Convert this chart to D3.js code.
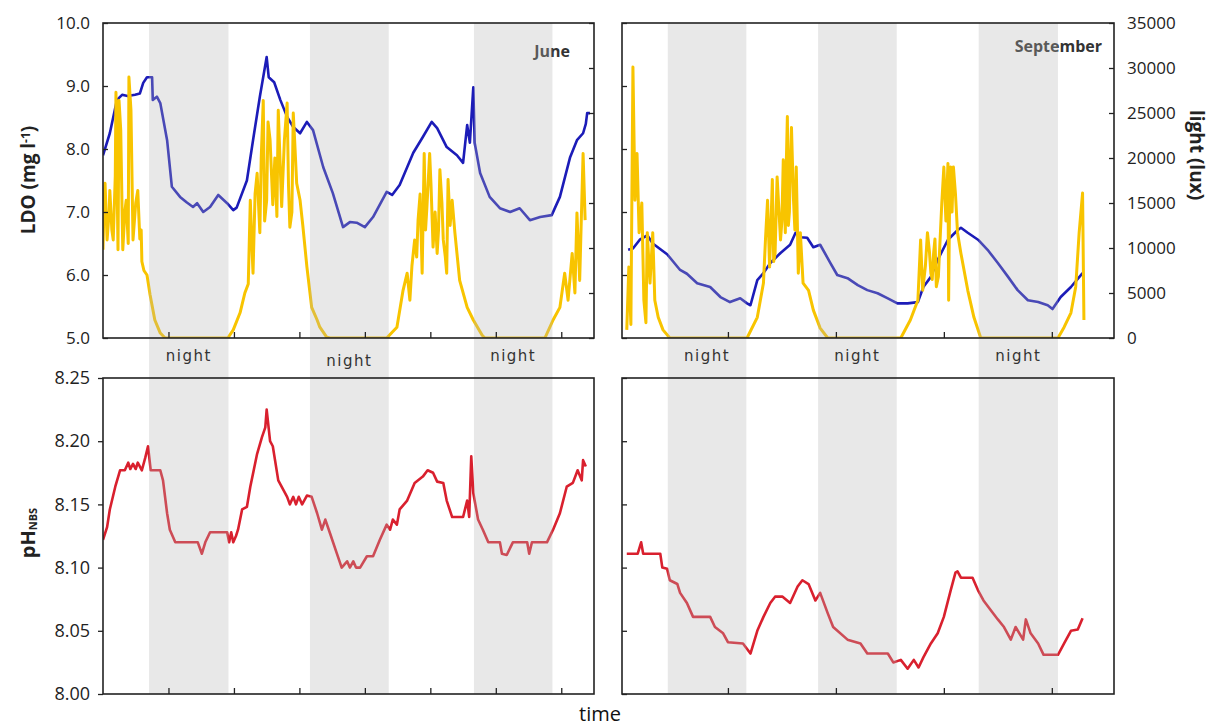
<!DOCTYPE html>
<html>
<head>
<meta charset="utf-8">
<script src="https://cdn.jsdelivr.net/npm/d3@7"></script>
<style>
  body { margin: 0; background: #fff; }
  svg { display: block; }
  text { font-family: "Open Sans", sans-serif; fill: #222; }
</style>
</head>
<body>
<svg id="drawing_region"></svg>
<script>
// time in hours since start of each record
const juneLdo = [[0,7.9],[1,8.25],[2.05,8.78],[2.8,8.86],[3.6,8.84],[4.7,8.86],[5.4,8.88],[5.9,9.05],[6.45,9.14],[7.2,9.14],[7.3,8.78],[7.9,8.83],[8.4,8.73],[9.4,8.14],[10.1,7.4],[11.3,7.24],[12.3,7.15],[13.2,7.08],[13.8,7.14],[14.7,7.0],[15.7,7.08],[16.9,7.27],[18.2,7.14],[19.1,7.03],[19.6,7.07],[21.1,7.5],[22,8.14],[23,8.83],[24,9.46],[24.3,9.14],[25.1,9.06],[26,8.78],[27,8.51],[27.9,8.35],[28.9,8.25],[29.9,8.43],[30.8,8.3],[32.3,7.71],[33.7,7.3],[35.2,6.76],[36.2,6.84],[37.2,6.83],[38.4,6.76],[39.6,6.92],[41.6,7.32],[42.4,7.27],[43.5,7.43],[45.5,7.94],[46.9,8.19],[48.2,8.43],[49,8.33],[50.4,8.03],[51.9,7.9],[52.8,7.78],[53.4,8.38],[53.8,8.1],[54.3,8.98],[54.5,8.1],[55.3,7.62],[56.7,7.24],[58.2,7.06],[59.7,7.0],[61.1,7.06],[62.6,6.87],[64.1,6.92],[65.8,6.95],[67,7.24],[68.5,7.87],[69.5,8.14],[70.4,8.25],[70.8,8.4],[71,8.57],[71.4,8.57]];

const juneLux = [[0,9800],[0.15,15000],[0.3,17200],[0.6,10900],[0.9,14000],[1,16400],[1.3,12000],[1.5,10900],[1.8,18000],[1.9,27300],[2.2,9800],[2.35,26400],[2.6,23100],[2.9,9800],[3.2,14000],[3.4,15300],[3.7,10500],[3.8,29000],[4.1,25300],[4.4,10900],[4.8,15000],[5.1,16400],[5.4,11000],[5.6,12000],[5.7,8500],[6,7500],[6.45,7000],[6.9,4800],[7.6,2000],[8.4,550],[9.1,0],[18.3,0],[19.1,900],[20.1,2800],[20.8,5000],[21.3,6000],[21.6,15300],[21.9,9000],[22,7200],[22.3,16000],[22.6,18300],[23,11700],[23.2,20000],[23.5,26400],[23.7,13000],[24,15300],[24.2,24000],[24.5,22000],[24.9,14800],[25.2,20000],[25.5,13500],[25.7,25300],[26.2,14600],[26.6,22000],[27,26100],[27.2,17000],[27.4,12300],[27.7,14000],[27.9,25000],[28.1,22000],[28.4,17200],[28.9,15300],[29.3,12500],[29.9,7900],[30.6,3400],[31.4,2000],[31.8,1200],[32.8,100],[33.3,0],[41.6,0],[43.1,1200],[44,5300],[44.6,7200],[45,4200],[45.3,8000],[45.7,10900],[46,9000],[46.2,13100],[46.5,16000],[46.8,7200],[47.1,20500],[47.3,12000],[47.5,14600],[47.9,20500],[48.1,17000],[48.4,10100],[48.7,14000],[49,9400],[49.2,12000],[49.4,18700],[49.7,15000],[49.9,10900],[50.2,9000],[50.4,7200],[50.6,17600],[50.9,12500],[51.2,15300],[51.6,11700],[52.3,6400],[53.4,3400],[54.3,2000],[55.6,300],[56,0],[64.8,0],[66,2000],[67,3400],[67.7,7200],[68.2,4200],[68.8,9400],[69.2,5000],[69.5,13900],[69.9,6400],[70.4,20500],[70.7,13100]];

const junePh = [[0,8.122],[0.6,8.132],[1,8.146],[1.8,8.164],[2.5,8.177],[3.2,8.177],[3.7,8.183],[4,8.178],[4.4,8.182],[4.8,8.178],[5.1,8.183],[5.7,8.177],[6.2,8.187],[6.6,8.196],[7,8.177],[8.4,8.177],[8.8,8.169],[9.4,8.143],[9.8,8.13],[10.6,8.12],[13.9,8.12],[14.5,8.111],[15,8.12],[15.7,8.128],[18.2,8.128],[18.5,8.12],[18.8,8.128],[19.1,8.12],[19.5,8.125],[19.8,8.13],[20.4,8.146],[21.1,8.148],[21.6,8.164],[22.6,8.19],[23.3,8.203],[23.8,8.211],[24,8.225],[24.5,8.2],[24.9,8.196],[25.7,8.169],[27,8.156],[27.4,8.15],[27.9,8.156],[28.3,8.15],[28.7,8.156],[29.2,8.15],[29.9,8.157],[30.6,8.156],[31.4,8.143],[32.1,8.13],[32.6,8.138],[33.3,8.127],[34.3,8.111],[35,8.1],[35.8,8.105],[36.2,8.1],[36.7,8.105],[37.1,8.1],[37.7,8.1],[38.7,8.109],[39.6,8.109],[40.6,8.122],[41.6,8.134],[42.1,8.13],[42.5,8.138],[43.1,8.134],[43.5,8.146],[44.6,8.153],[45.7,8.167],[46.9,8.172],[47.6,8.177],[48.4,8.175],[49,8.168],[49.9,8.167],[50.4,8.153],[51.2,8.14],[52.8,8.14],[53.4,8.153],[53.7,8.14],[54,8.188],[54.3,8.159],[55,8.138],[55.7,8.13],[56.5,8.12],[58.2,8.12],[58.5,8.111],[59.2,8.11],[60.1,8.12],[62.2,8.12],[62.5,8.111],[62.9,8.12],[65.1,8.12],[66,8.13],[67,8.143],[68,8.164],[68.9,8.167],[69.6,8.177],[70.2,8.169],[70.4,8.185],[70.8,8.18]];

const septLdo = [[0.9,6.4],[1.6,6.42],[2.6,6.56],[3.7,6.63],[4.5,6.5],[6.6,6.33],[8.5,6.08],[9.5,6.02],[11,5.87],[12.9,5.81],[14.4,5.65],[15.8,5.57],[17.3,5.63],[18.3,5.55],[18.8,5.52],[19.8,5.92],[20.7,6.03],[21.7,6.19],[23.2,6.35],[24.6,6.48],[25.4,6.67],[26.1,6.6],[27.1,6.59],[28,6.44],[29,6.48],[30.5,6.19],[31.5,6.0],[33,5.95],[34.5,5.84],[35.9,5.76],[37.4,5.71],[38.9,5.63],[40.3,5.55],[41.8,5.55],[43.3,5.57],[44.1,5.81],[45.2,5.97],[46.2,6.24],[47.7,6.56],[49.1,6.71],[49.6,6.75],[50.6,6.67],[52.1,6.56],[53.5,6.4],[55,6.19],[56.5,5.97],[57.9,5.76],[59.4,5.6],[60.9,5.57],[62.3,5.52],[63,5.46],[64.2,5.65],[65.7,5.81],[67.4,6.03]];

const septLux = [[0.7,900],[1,7900],[1.3,1500],[1.6,30100],[1.9,15300],[2.2,20500],[2.5,11700],[2.9,15000],[3.2,4200],[3.5,1700],[3.7,11700],[4.1,6100],[4.5,11700],[4.8,4200],[5.3,2300],[6,900],[7,0],[18.3,0],[19.8,2300],[20.7,6100],[21,11000],[21.3,15300],[21.6,7900],[21.8,12500],[22,17600],[22.2,8500],[22.4,9400],[22.7,17900],[23.2,10900],[23.4,13000],[23.6,19800],[23.9,11700],[24,18000],[24.2,24600],[24.35,12500],[24.5,14000],[24.65,20000],[24.8,23400],[25.1,15300],[25.3,12000],[25.5,19000],[25.8,7200],[26.1,11700],[26.5,6100],[27.3,5300],[28,3100],[29,1100],[30.1,0],[40.8,0],[42.2,2000],[43.3,4200],[43.7,10900],[44,5300],[44.4,8000],[44.7,11700],[45,9500],[45.2,7200],[45.4,6500],[45.6,9400],[45.8,11000],[46,5700],[46.3,6800],[46.5,10100],[46.8,15000],[47.1,19000],[47.4,13000],[47.7,19400],[47.8,4200],[47.95,16000],[48.1,19000],[48.3,14000],[48.5,19000],[48.8,16000],[49.1,11700],[49.6,9400],[50.6,5300],[51.5,2300],[52.5,0],[63.8,0],[64.7,1200],[65.7,2800],[66.4,5700],[66.9,11700],[67.4,16100],[67.6,2000]];

const septPh = [[0.7,8.111],[2.3,8.111],[2.8,8.12],[3.1,8.111],[5.6,8.111],[5.9,8.1],[6.6,8.099],[7,8.09],[8.1,8.087],[8.5,8.08],[9.5,8.072],[10.4,8.061],[12.9,8.061],[13.6,8.053],[14.8,8.048],[15.5,8.041],[17.7,8.04],[18.8,8.032],[19.8,8.05],[20.7,8.061],[21.7,8.072],[22.4,8.077],[23.5,8.077],[24.6,8.072],[25.7,8.085],[26.4,8.09],[27.3,8.087],[28.3,8.074],[29,8.08],[30.1,8.064],[30.9,8.053],[33,8.043],[34.9,8.04],[35.9,8.032],[38.9,8.032],[39.7,8.025],[40.8,8.027],[41.8,8.02],[42.7,8.027],[43.4,8.021],[44.1,8.029],[45.2,8.04],[46.2,8.048],[47.1,8.061],[48.1,8.082],[48.8,8.096],[49.1,8.097],[49.6,8.092],[51.3,8.092],[52.1,8.082],[52.9,8.074],[54,8.066],[55,8.059],[55.9,8.053],[56.9,8.043],[57.6,8.053],[58.7,8.043],[59.1,8.059],[59.8,8.048],[60.9,8.04],[61.7,8.031],[63.8,8.031],[64.7,8.04],[65.7,8.05],[66.7,8.051],[67.4,8.06]];

const juneNights = [[6.75,18.4],[30.35,41.9],[54.4,65.9]];
const septNights = [[6.7,18.2],[28.7,40.2],[52.2,63.8]];
const juneTimeTicks = [9.6,19.2,28.8,38.4,48,57.6,67.2];
const septTimeTicks = [15.5,31.3,47.1,62.9];
const ldoTicks = [5,6,7,8,9,10];
const luxTicks = [0,5000,10000,15000,20000,25000,30000,35000];
const phTicks = [8.00,8.05,8.10,8.15,8.20,8.25];

const W = 1212, H = 726;
const svg = d3.select('#drawing_region').attr('width', W).attr('height', H);

const top_ = {y: 23, h: 315};
const bot_ = {y: 378, h: 316};

const yLdo = d3.scaleLinear().domain([5,10]).range([top_.y + top_.h, top_.y]);
const yLux = d3.scaleLinear().domain([0,35000]).range([top_.y + top_.h, top_.y]);
const yPh = d3.scaleLinear().domain([8,8.25]).range([bot_.y + bot_.h, bot_.y]);

const cols = [
    {name: 'june', x: 103, w: 491, ldo: juneLdo, lux: juneLux, ph: junePh, nights: juneNights, ticks: juneTimeTicks, month: 'June', monthY: 57, labelDrop: [0,5,0]},
    {name: 'sept', x: 622, w: 492, ldo: septLdo, lux: septLux, ph: septPh, nights: septNights, ticks: septTimeTicks, month: 'September', monthY: 52, labelDrop: [0,0,0]}
];

const blue = '#1c1cb8', gold = '#f8c400', red = '#d9202e';

cols.forEach( c => {
    c.xscale = d3.scaleLinear().domain([0,72]).range([c.x, c.x + c.w]);

    [['top', top_], ['bot', bot_]].forEach( ([k, p]) => {
        svg.append('clipPath').attr('id', `clip-${c.name}-${k}`)
            .append('rect').attr('x', c.x).attr('y', p.y).attr('width', c.w).attr('height', p.h);
    });

    const lineLdo = d3.line().x(d => c.xscale(d[0])).y(d => yLdo(d[1]));
    const lineLux = d3.line().x(d => c.xscale(d[0])).y(d => yLux(d[1]));
    const linePh = d3.line().x(d => c.xscale(d[0])).y(d => yPh(d[1]));

    const gTop = svg.append('g').attr('clip-path', `url(#clip-${c.name}-top)`);
    gTop.append('path').datum(c.ldo).attr('d', lineLdo)
        .attr('fill', 'none').attr('stroke', blue).attr('stroke-width', 2.6).attr('stroke-linejoin', 'round');
    gTop.append('path').datum(c.lux).attr('d', lineLux)
        .attr('fill', 'none').attr('stroke', gold).attr('stroke-width', 3).attr('stroke-linejoin', 'round');

    const gBot = svg.append('g').attr('clip-path', `url(#clip-${c.name}-bot)`);
    gBot.append('path').datum(c.ph).attr('d', linePh)
        .attr('fill', 'none').attr('stroke', red).attr('stroke-width', 2.6).attr('stroke-linejoin', 'round');

    // month tag (sits under the night shading)
    svg.append('text')
        .attr('x', c.name == 'june' ? 570 : 1102).attr('y', c.monthY)
        .attr('text-anchor', 'end').attr('font-size', '16px').attr('font-weight', 'bold')
        .style('fill', '#333').text(c.month);
});

// night shading spans both rows
cols.forEach( c => {
    svg.append('g').selectAll('rect')
        .data(c.nights).enter().append('rect')
        .attr('x', d => c.xscale(d[0]))
        .attr('width', d => c.xscale(d[1]) - c.xscale(d[0]))
        .attr('y', top_.y).attr('height', bot_.y + bot_.h - top_.y)
        .attr('fill', '#b4b4b4').attr('fill-opacity', 0.3);

    svg.append('g').selectAll('text')
        .data(c.nights).enter().append('text')
        .attr('x', d => c.xscale((d[0] + d[1]) / 2))
        .attr('y', (d, i) => 361 + c.labelDrop[i])
        .attr('text-anchor', 'middle')
        .attr('font-size', '15px').attr('letter-spacing', '1.5px')
        .style('font-family', '"DejaVu Sans", sans-serif').style('fill', '#333')
        .text('night');
});

function styleAxis(g) {
    g.select('.domain').remove();
    g.selectAll('line').attr('stroke', '#222').attr('stroke-width', 1.3);
    g.selectAll('text').style('fill', '#222').style('font-family', '"Open Sans", sans-serif');
}

cols.forEach( c => {
    // frames
    [top_, bot_].forEach( p => {
        svg.append('rect').attr('x', c.x).attr('y', p.y).attr('width', c.w).attr('height', p.h)
            .attr('fill', 'none').attr('stroke', '#222').attr('stroke-width', 1.6);
    });

    // time ticks, inward, no labels
    [top_, bot_].forEach( p => {
        svg.append('g').attr('transform', `translate(0, ${p.y + p.h})`)
            .call(d3.axisBottom(c.xscale).tickValues(c.ticks).tickSize(-6).tickFormat(''))
            .call(styleAxis);
    });

    const june = c.name == 'june';

    svg.append('g').attr('transform', `translate(${c.x}, 0)`)
        .call(d3.axisLeft(yLdo).tickValues(ldoTicks).tickSize(-5).tickPadding(13)
            .tickFormat(june ? d3.format('.1f') : ''))
        .call(styleAxis)
        .call(g => g.selectAll('text').attr('font-size', '17px'));

    svg.append('g').attr('transform', `translate(${c.x + c.w}, 0)`)
        .call(d3.axisRight(yLux).tickValues(luxTicks).tickSize(-5).tickPadding(13)
            .tickFormat(june ? '' : d3.format('d')))
        .call(styleAxis)
        .call(g => g.selectAll('text').attr('font-size', '17px'));

    svg.append('g').attr('transform', `translate(${c.x}, 0)`)
        .call(d3.axisLeft(yPh).tickValues(phTicks).tickSize(june ? 5 : -5).tickPadding(june ? 8 : 13)
            .tickFormat(june ? d3.format('.2f') : ''))
        .call(styleAxis)
        .call(g => g.selectAll('text').attr('font-size', '18px'));
});

// axis titles
const ldoTitle = svg.append('text')
    .attr('transform', 'translate(28, 180) rotate(-90)')
    .attr('text-anchor', 'middle').attr('dy', '0.35em')
    .attr('font-size', '19px').attr('font-weight', 'bold');
ldoTitle.append('tspan').text('LDO (mg l');
ldoTitle.append('tspan').attr('font-size', '12px').attr('baseline-shift', '45%').text('-1');
ldoTitle.append('tspan').text(')');

svg.append('text')
    .attr('transform', 'translate(1197, 155) rotate(90)')
    .attr('text-anchor', 'middle').attr('dy', '0.35em')
    .attr('font-size', '19px').attr('font-weight', 'bold')
    .text('light (lux)');

const phTitle = svg.append('text')
    .attr('transform', 'translate(28, 533) rotate(-90)')
    .attr('text-anchor', 'middle').attr('dy', '0.35em')
    .attr('font-size', '20px').attr('font-weight', 'bold');
phTitle.append('tspan').text('pH');
phTitle.append('tspan').attr('font-size', '11px').attr('baseline-shift', '-20%').text('NBS');

svg.append('text')
    .attr('x', 600).attr('y', 721)
    .attr('text-anchor', 'middle').attr('font-size', '20px')
    .style('fill', '#111')
    .text('time');
</script>
</body>
</html>
